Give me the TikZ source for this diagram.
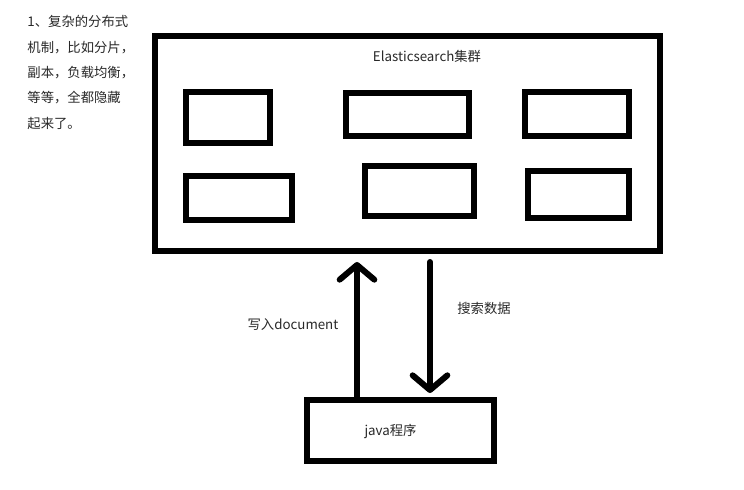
\documentclass[tikz,border=0pt]{standalone}
\usepackage{fontspec}
\setmainfont{Noto Sans CJK SC}
\usetikzlibrary{arrows.meta}

\tikzset{every picture/.style={line width=0.75pt}}
\tikzset{
  thickbox/.style={draw, line width=4.5pt, inner sep=0pt, rectangle},
  shardbox/.style={draw, line width=4.2pt, inner sep=0pt, rectangle},
  bigarrow/.style={line width=4.5pt, line cap=round,
    -{Straight Barb[length=11pt,width=26pt,line cap=round,line join=round]}},
  txt/.style={font=\fontsize{10}{12}\selectfont, text={rgb,255:red,40;green,40;blue,40}}
}

\begin{document}
\begin{tikzpicture}[x=0.75pt,y=0.75pt,yscale=-1,xscale=1]
\path[use as bounding box] (0,0) rectangle (744,490);

% Text Node
\node (note) [txt, font=\fontsize{10}{19}\selectfont, anchor=north west, align=left, inner sep=0pt] at (27,15)
  {1、复杂的分布式\\机制，比如分片，\\副本，负载均衡，\\等等，全都隐藏\\起来了。};

%Cluster box
\node (cluster) [thickbox, minimum width=378.75pt, minimum height=161.25pt] at (407.5,143.5) {};
% Text Node
\node (title) [txt] at (427,56) {Elasticsearch集群};

%Shard boxes
\node (shardA) [shardbox, minimum width=63pt, minimum height=38.25pt] at (228,117.5) {};
\node (shardB) [shardbox, minimum width=92.25pt, minimum height=32.25pt] at (407.5,114.5) {};
\node (shardC) [shardbox, minimum width=78pt, minimum height=33pt] at (577,114) {};
\node (shardD) [shardbox, minimum width=79.5pt, minimum height=33pt] at (239,198) {};
\node (shardE) [shardbox, minimum width=81.75pt, minimum height=37.5pt] at (419.5,191) {};
\node (shardF) [shardbox, minimum width=75.75pt, minimum height=35.25pt] at (578.5,194.5) {};

%Java box
\node (java) [thickbox, minimum width=140.25pt, minimum height=45.75pt,
  label={[txt, xshift=-7.5pt, yshift=-1pt]center:java程序}] at (400.5,430.5) {};

%Straight Lines
\coordinate (upx) at (357,300);
\coordinate (downx) at (430,300);
\draw [bigarrow, shorten >=6pt] (java.north -| upx) -- (cluster.south -| upx) ;
\draw [bigarrow, shorten <=6pt, shorten >=3pt] (cluster.south -| downx) -- (java.north -| downx) ;

% Text Node
\node (write) [txt] at (293,325) {写入document};
% Text Node
\node (search) [txt] at (484,308) {搜索数据};

\end{tikzpicture}
\end{document}
